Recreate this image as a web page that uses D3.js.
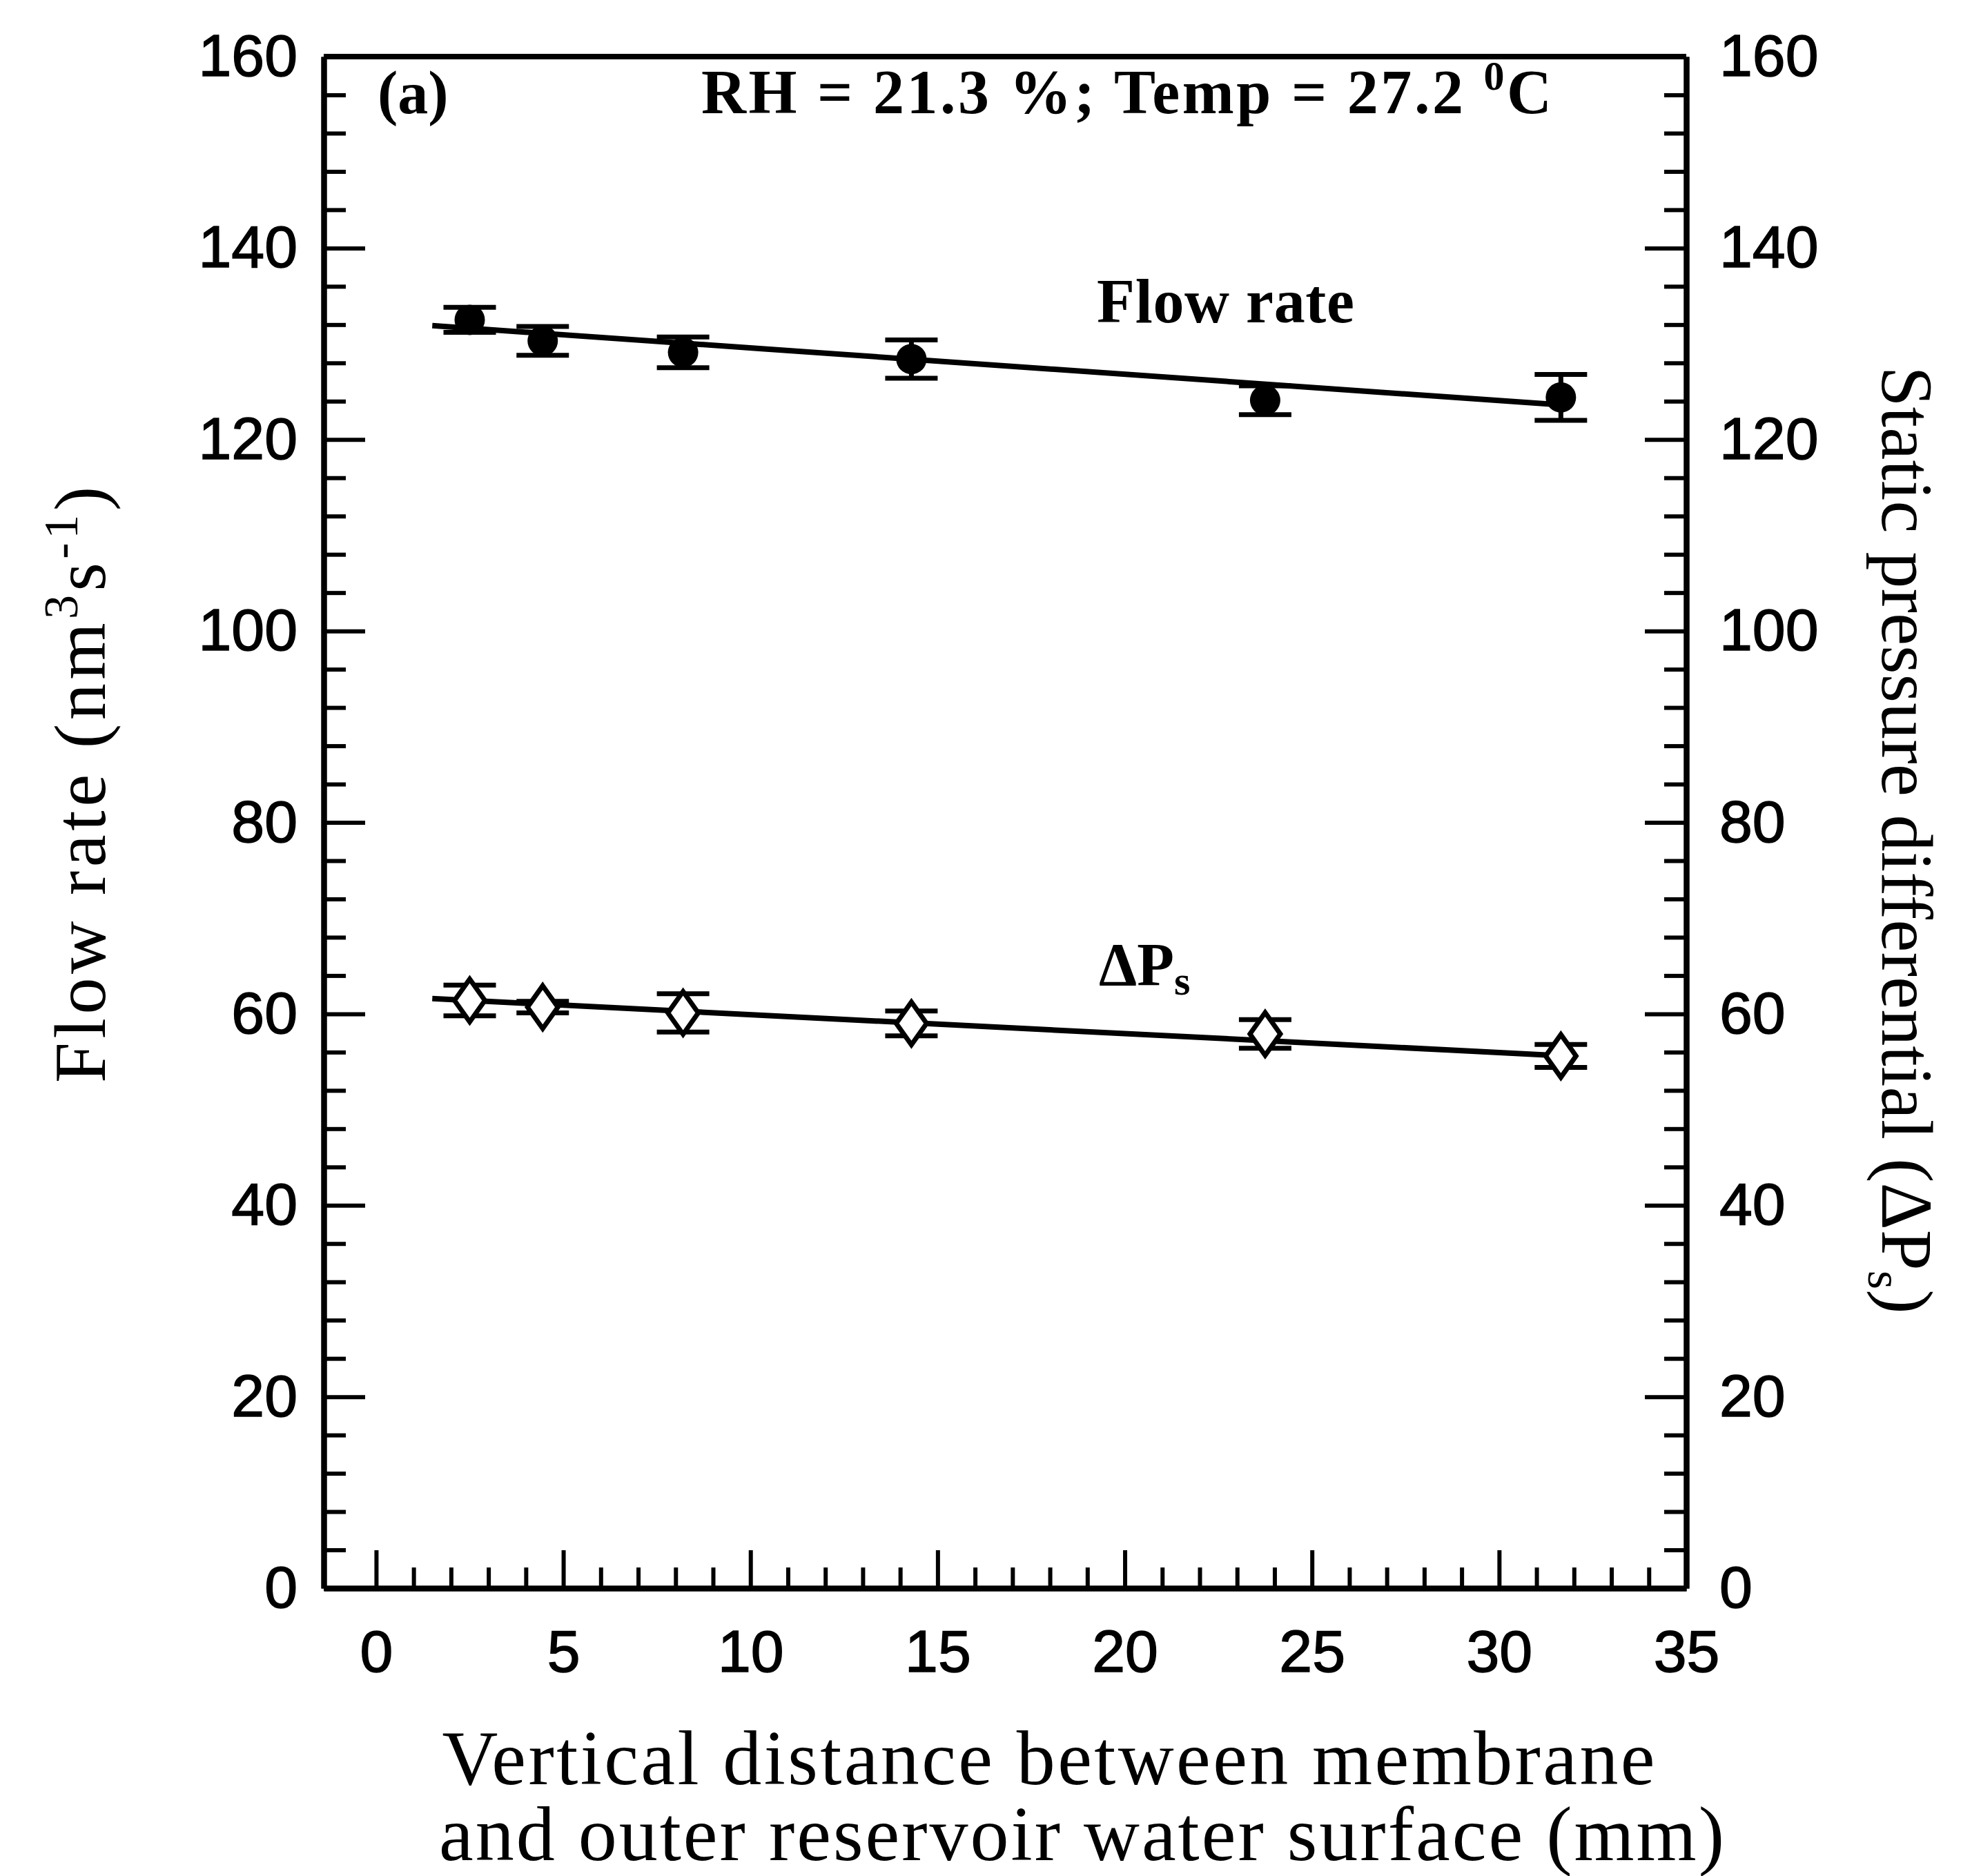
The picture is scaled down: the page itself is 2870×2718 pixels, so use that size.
<!DOCTYPE html>
<html>
<head>
<meta charset="utf-8">
<script src="https://cdn.jsdelivr.net/npm/d3@7"></script>
<style>
  body { margin: 0; background: #fff; }
</style>
</head>
<body>
<svg width="2870" height="2718"></svg>
<script>
// values
const distance = [2.5, 4.45, 8.2, 14.3, 23.75, 31.65];
const flowRate = [132.5, 130.3, 129.1, 128.4, 124.1, 124.4];
const flowErr = [1.3, 1.5, 1.6, 2.0, 1.5, 2.4];
const deltaPs = [61.4, 60.7, 60.1, 59.0, 57.9, 55.6];
const deltaErr = [1.6, 0.6, 2.0, 1.3, 1.5, 1.2];
// fitted straight lines, end points
const flowFit = [[1.5, 131.9], [31.7, 123.6]];
const deltaFit = [[1.5, 61.6], [31.8, 55.6]];

const xTicks = [0, 5, 10, 15, 20, 25, 30, 35];
const xMinor = d3.range(1, 35).filter(d => d % 5 !== 0);
const yTicks = [0, 20, 40, 60, 80, 100, 120, 140, 160];
const yMinor = d3.range(4, 160, 4).filter(d => d % 20 !== 0);

const svg = d3.select('svg');
const width = +svg.attr('width');
const height = +svg.attr('height');

const margin = { top: 82, right: 427, bottom: 417, left: 469 };
const innerWidth = width - margin.left - margin.right;
const innerHeight = height - margin.top - margin.bottom;

const xScale = d3.scaleLinear().domain([-1.4, 35]).range([0, innerWidth]);
const yScale = d3.scaleLinear().domain([0, 160]).range([innerHeight, 0]);

const g = svg.append('g')
    .attr('transform', `translate(${margin.left}, ${margin.top})`);

const numFont = "'Liberation Sans', Arial, sans-serif";
const serif = "'Liberation Serif', 'Times New Roman', serif";

const styleAxis = sel => {
    sel.attr('font-family', numFont).attr('font-size', 86);
    sel.selectAll('path.domain').attr('stroke-width', 8);
    sel.selectAll('.tick line').attr('stroke-width', 6);
    sel.selectAll('.tick text')
        .attr('fill', '#000')
        .attr('stroke', '#000')
        .attr('stroke-width', 1.5);
};

// minor ticks (no labels)
const minor = sel => sel.selectAll('.tick text').remove();
g.append('g').attr('transform', `translate(0, ${innerHeight})`)
    .call(d3.axisBottom(xScale).tickValues(xMinor).tickSizeInner(-30).tickSizeOuter(0))
    .call(styleAxis).call(minor);
g.append('g')
    .call(d3.axisLeft(yScale).tickValues(yMinor).tickSizeInner(-32).tickSizeOuter(0))
    .call(styleAxis).call(minor);
g.append('g').attr('transform', `translate(${innerWidth}, 0)`)
    .call(d3.axisRight(yScale).tickValues(yMinor).tickSizeInner(-32).tickSizeOuter(0))
    .call(styleAxis).call(minor);

// major ticks with labels
g.append('g').attr('transform', `translate(0, ${innerHeight})`)
    .call(d3.axisBottom(xScale).tickValues(xTicks).tickSizeInner(-55).tickSizeOuter(0).tickPadding(60))
    .call(styleAxis);
g.append('g')
    .call(d3.axisLeft(yScale).tickValues(yTicks).tickSizeInner(-60).tickSizeOuter(0).tickPadding(38))
    .call(styleAxis);
g.append('g').attr('transform', `translate(${innerWidth}, 0)`)
    .call(d3.axisRight(yScale).tickValues(yTicks).tickSizeInner(-60).tickSizeOuter(0).tickPadding(48))
    .call(styleAxis);

// top border
g.append('line')
    .attr('x1', 0).attr('x2', innerWidth)
    .attr('y1', 0).attr('y2', 0)
    .attr('stroke', '#000').attr('stroke-width', 8);

// fitted lines
const line = d3.line().x(d => xScale(d[0])).y(d => yScale(d[1]));
[flowFit, deltaFit].forEach(fit => {
    g.append('path').datum(fit)
        .attr('d', line)
        .attr('fill', 'none')
        .attr('stroke', '#000')
        .attr('stroke-width', 8);
});

// error bars
const drawErr = (vals, errs) => {
    const eg = g.append('g').attr('stroke', '#000').attr('stroke-width', 7);
    distance.forEach((x, i) => {
        const cx = xScale(x);
        const y1 = yScale(vals[i] + errs[i]);
        const y2 = yScale(vals[i] - errs[i]);
        eg.append('line').attr('x1', cx).attr('x2', cx).attr('y1', y1).attr('y2', y2);
        eg.append('line').attr('x1', cx - 38).attr('x2', cx + 38).attr('y1', y1).attr('y2', y1);
        eg.append('line').attr('x1', cx - 38).attr('x2', cx + 38).attr('y1', y2).attr('y2', y2);
    });
};
drawErr(flowRate, flowErr);
drawErr(deltaPs, deltaErr);

// flow rate: filled circles
g.append('g').selectAll('circle').data(flowRate)
    .enter().append('circle')
    .attr('cx', (d, i) => xScale(distance[i]))
    .attr('cy', d => yScale(d))
    .attr('r', 22)
    .attr('fill', '#000');

// static pressure: open diamonds
g.append('g').selectAll('path').data(deltaPs)
    .enter().append('path')
    .attr('transform', (d, i) => `translate(${xScale(distance[i])}, ${yScale(d)})`)
    .attr('d', 'M0,-31L22,0L0,31L-22,0Z')
    .attr('fill', '#fff')
    .attr('stroke', '#000')
    .attr('stroke-width', 7);

// annotations
g.append('text')
    .attr('x', 78).attr('y', 82)
    .attr('font-family', serif).attr('font-weight', 'bold').attr('font-size', 88)
    .text('(a)');

const cond = g.append('text')
    .attr('x', 547).attr('y', 82)
    .attr('font-family', serif).attr('font-weight', 'bold').attr('font-size', 90)
    .attr('textLength', 1232).attr('lengthAdjust', 'spacing');
cond.append('tspan').text('RH = 21.3 %; Temp = 27.2 ');
cond.append('tspan').attr('dy', -34).attr('font-size', 60).text('0');
cond.append('tspan').attr('dy', 34).text('C');

g.append('text')
    .attr('x', 1120).attr('y', 385)
    .attr('font-family', serif).attr('font-weight', 'bold').attr('font-size', 90)
    .attr('textLength', 373).attr('lengthAdjust', 'spacing')
    .text('Flow rate');

const dp = g.append('text')
    .attr('x', 1123).attr('y', 1345)
    .attr('font-family', serif).attr('font-weight', 'bold').attr('font-size', 88);
dp.append('tspan').text('ΔP');
dp.append('tspan').attr('dy', 14).attr('font-size', 60).text('s');

// axis titles
const xTitle = svg.append('text')
    .attr('font-family', serif).attr('font-size', 112)
    .attr('text-anchor', 'middle');
xTitle.append('tspan').attr('x', 1519).attr('y', 2585)
    .attr('textLength', 1757).attr('lengthAdjust', 'spacing')
    .text('Vertical distance between membrane');
xTitle.append('tspan').attr('x', 1567).attr('y', 2695)
    .attr('textLength', 1862).attr('lengthAdjust', 'spacing')
    .text('and outer reservoir water surface (mm)');

const yTitle = svg.append('text')
    .attr('transform', 'translate(152, 1137) rotate(-90)')
    .attr('font-family', serif).attr('font-size', 106)
    .attr('text-anchor', 'middle')
    .attr('textLength', 864).attr('lengthAdjust', 'spacing');
yTitle.append('tspan').text('Flow rate (nm');
yTitle.append('tspan').attr('dy', -40).attr('font-size', 70).text('3');
yTitle.append('tspan').attr('dy', 40).text('s');
yTitle.append('tspan').attr('dy', -40).attr('font-size', 70).text('-1');
yTitle.append('tspan').attr('dy', 40).text(')');

const y2Title = svg.append('text')
    .attr('transform', 'translate(2727, 1217) rotate(90)')
    .attr('font-family', serif).attr('font-size', 106)
    .attr('text-anchor', 'middle')
    .attr('textLength', 1373).attr('lengthAdjust', 'spacing');
y2Title.append('tspan').text('Static pressure differential (ΔP');
y2Title.append('tspan').attr('dy', 20).attr('font-size', 70).text('s');
y2Title.append('tspan').attr('dy', -20).text(')');
</script>
</body>
</html>
